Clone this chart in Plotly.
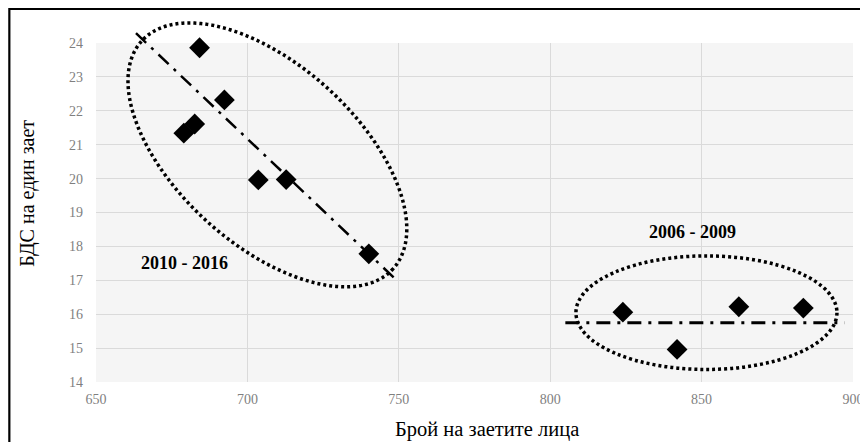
import numpy as np
import plotly.graph_objects as go

# Data: number of employed (x) vs GDP per employed (y)
x_2010_2016 = [684.2, 692.4, 682.6, 679.0, 703.6, 712.8, 740.1]
y_2010_2016 = [23.86, 22.32, 21.61, 21.34, 19.96, 19.97, 17.78]
x_2006_2009 = [824.0, 841.9, 862.3, 883.6]
y_2006_2009 = [16.06, 14.96, 16.22, 16.18]

trend_left_x = [663.2, 749.3]
trend_left_y = [24.29, 17.0]
trend_right_x = [805.0, 897.2]
trend_right_y = [15.75, 15.75]

x_ticks = [650, 700, 750, 800, 850, 900]
y_ticks = [14, 15, 16, 17, 18, 19, 20, 21, 22, 23, 24]

label_left = "2010 - 2016"
label_right = "2006 - 2009"
x_title = "Брой на заетите лица"
y_title = "БДС на един зает"

W, H = 868, 442
OFF = 8  # page body margin
ML, MT = 96 - OFF, 43 - OFF
PW, PH = 760, 339
MR = W - ML - PW
MB = H - MT - PH
xr = [650, 900]
yr = [14, 24]
pxx = PW / (xr[1] - xr[0])
pxy = PH / (yr[1] - yr[0])


def to_paper(xv, yv):
    xv = np.asarray(xv, dtype=float)
    yv = np.asarray(yv, dtype=float)
    return (xv - xr[0]) / (xr[1] - xr[0]), (yv - yr[0]) / (yr[1] - yr[0])


def px_to_paper(px, py):
    # screen pixel (as seen in page) -> paper coords
    return (px - OFF - ML) / PW, (MT + PH - (py - OFF)) / PH


def path_of(xp, yp, close=False):
    s = "M " + " L ".join(f"{a:.5f},{b:.5f}" for a, b in zip(xp, yp))
    return s + (" Z" if close else "")


# tilted ellipse around the 2010-2016 group (defined in screen px)
ecx, ecy = 706.6, 20.7
ea, eb, eth = 170.0, 90.0, np.deg2rad(42)
t = np.linspace(0, 2 * np.pi, 360, endpoint=False)
dxp = ea * np.cos(t) * np.cos(eth) - eb * np.sin(t) * np.sin(eth)
dyp = ea * np.cos(t) * np.sin(eth) + eb * np.sin(t) * np.cos(eth)
ell_x = ecx + dxp / pxx
ell_y = ecy - dyp / pxy

# axis-aligned ellipse around 2006-2009 group
e2x = [808.5, 894.7]
e2y = [14.37, 17.72]

font = "Liberation Serif, Times New Roman, serif"
dashdot = "14px,7px,3px,7px"

fig = go.Figure()
fig.add_trace(go.Scatter(x=x_2010_2016, y=y_2010_2016, mode="markers", cliponaxis=False,
                         marker=dict(symbol="diamond", size=16, color="black"),
                         showlegend=False))
fig.add_trace(go.Scatter(x=x_2006_2009, y=y_2006_2009, mode="markers", cliponaxis=False,
                         marker=dict(symbol="diamond", size=16, color="black"),
                         showlegend=False))

ex, ey = to_paper(ell_x, ell_y)
fig.add_shape(type="path", xref="paper", yref="paper", path=path_of(ex, ey, True),
              line=dict(color="black", width=3.5, dash="3px,3px"))
e2xp, e2yp = to_paper(e2x, e2y)
fig.add_shape(type="circle", xref="paper", yref="paper",
              x0=e2xp[0], x1=e2xp[1], y0=e2yp[0], y1=e2yp[1],
              line=dict(color="black", width=3.5, dash="3px,3px"))
tx, ty = to_paper(trend_left_x, trend_left_y)
fig.add_shape(type="path", xref="paper", yref="paper", path=path_of(tx, ty),
              line=dict(color="black", width=2.5, dash=dashdot))
tx, ty = to_paper(trend_right_x, trend_right_y)
fig.add_shape(type="path", xref="paper", yref="paper", path=path_of(tx, ty),
              line=dict(color="black", width=3, dash=dashdot))

# outer frame (partly outside the view)
fx0, fy1 = px_to_paper(9, 9)
fig.add_shape(type="rect", xref="paper", yref="paper",
              x0=fx0, x1=1.2, y0=-0.4, y1=fy1,
              line=dict(color="black", width=2.2), layer="below")

fig.add_annotation(x=679.3, y=17.5, text=f"<b>{label_left}</b>", showarrow=False,
                   xanchor="center", yanchor="middle",
                   font=dict(family=font, size=18, color="black"))
fig.add_annotation(x=847, y=18.42, text=f"<b>{label_right}</b>", showarrow=False,
                   xanchor="center", yanchor="middle",
                   font=dict(family=font, size=18, color="black"))

# axis titles
ax_, ay_ = px_to_paper(489, 429)
fig.add_annotation(xref="paper", yref="paper", x=ax_, y=ay_,
                   text=x_title, showarrow=False, xanchor="center", yanchor="middle",
                   font=dict(family=font, size=20.5, color="black"))
ax_, ay_ = px_to_paper(27, 193.5)
fig.add_annotation(xref="paper", yref="paper", x=ax_, y=ay_,
                   text=y_title, showarrow=False, textangle=-90,
                   xanchor="center", yanchor="middle",
                   font=dict(family=font, size=20, color="black"))

fig.update_layout(
    width=W, height=H,
    margin=dict(l=ML, r=MR, t=MT, b=MB),
    paper_bgcolor="white",
    plot_bgcolor="#f5f5f5",
    font=dict(family=font),
    xaxis=dict(range=xr, tickvals=x_ticks, showgrid=True, gridcolor="#dadada",
               gridwidth=1, zeroline=False, showline=False, ticklabelstandoff=7,
               tickfont=dict(family=font, size=14, color="#7f7f7f")),
    yaxis=dict(range=yr, tickvals=y_ticks, showgrid=True, gridcolor="#dadada",
               gridwidth=1, zeroline=False, showline=False, ticklabelstandoff=12,
               tickfont=dict(family=font, size=14, color="#7f7f7f")),
)

fig.write_html("out.html")
